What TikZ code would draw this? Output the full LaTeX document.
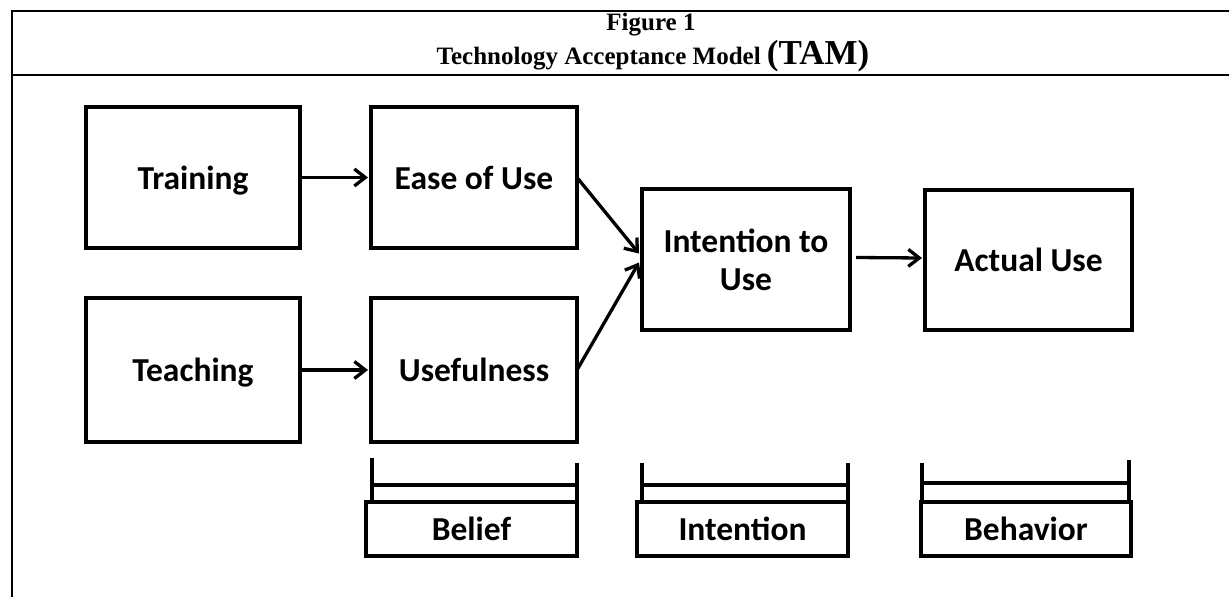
\documentclass[tikz,border=0pt]{standalone}
\usepackage{fontspec}
\setmainfont{Liberation Serif}
\newfontfamily\diagfont{Carlito}
\usetikzlibrary{arrows.meta}
\tikzset{
  frameline/.style={line width=2pt, draw=black},
  box/.style={draw, line width=3.8pt, inner sep=0pt, outer sep=0pt, align=center,
    font=\diagfont\bfseries\fontsize{33.5}{38}\selectfont},
  oneline/.style={text height=23pt, text depth=0pt},
  conn/.style={line width=3.3pt, -{Straight Barb[length=11pt,width=17pt,line width=3.3pt]}},
  bline/.style={line width=3.2pt, line cap=rect},
  bracketbox/.style={draw, line width=3.2pt, inner sep=0pt, outer sep=0pt, minimum height=54pt,
    font=\diagfont\bfseries\fontsize{33.5}{38}\selectfont},
  titlefont/.style={font=\bfseries\fontsize{25}{25}\selectfont, inner sep=0pt, anchor=base}
}
\begin{document}
\begin{tikzpicture}[x=1pt,y=-1pt]
\useasboundingbox[fill=white] (0,0) rectangle (1229,597);
% frame
\draw[frameline] (1229,11) -- (12,11) -- (12,597);
\draw[frameline] (12,74.5) -- (1229,74.5);
% title
\node[titlefont] (fig) at (651,30) {Figure 1};
\node[titlefont] (tam) at (653,64) {Technology Acceptance Model {\fontsize{35}{35}\selectfont (TAM)}};
% boxes
\node[box, oneline, minimum width=214pt, minimum height=141pt] (train) at (193,177.5) {Training};
\node[box, oneline, minimum width=206pt, minimum height=141pt] (ease) at (474,177.5) {Ease of Use};
\node[box, oneline, minimum width=214pt, minimum height=144pt] (teach) at (193,370) {Teaching};
\node[box, oneline, minimum width=206pt, minimum height=144pt] (useful) at (474,370) {Usefulness};
\node[box, minimum width=208pt, minimum height=141pt] (intent) at (746,259.5) {Intention to\\Use};
\node[box, oneline, minimum width=207pt, minimum height=140pt] (actual) at (1028.5,260) {Actual Use};
% connectors
\draw[conn] (train.east) -- ([xshift=-3pt]ease.west);
\draw[conn] (teach.east) -- ([xshift=-3pt]useful.west);
\draw[conn] (ease.east) -- ([xshift=-3pt,yshift=6pt]intent.west);
\draw[conn] (useful.east) -- ([xshift=-3pt,yshift=-3pt]intent.west);
\draw[conn] ([xshift=6pt,yshift=2pt]intent.east) -- ([xshift=-3pt,yshift=2pt]actual.west);
% brackets
\node[bracketbox, minimum width=211pt] (belief) at (471.5,529) {Belief};
\draw[bline] (372,460) -- (372,502);
\draw[bline] (577,465) -- (577,502);
\draw[bline] (372,485) -- (577,485);
\node[bracketbox, minimum width=211pt] (intbr) at (742.5,529) {Intention};
\draw[bline] (642,465) -- (642,502);
\draw[bline] (848,465) -- (848,502);
\draw[bline] (642,485) -- (848,485);
\node[bracketbox, minimum width=210pt] (behav) at (1026,529) {Behavior};
\draw[bline] (922,465) -- (922,502);
\draw[bline] (1129,462) -- (1129,502);
\draw[bline] (922,483) -- (1127,483);
\end{tikzpicture}
\end{document}
